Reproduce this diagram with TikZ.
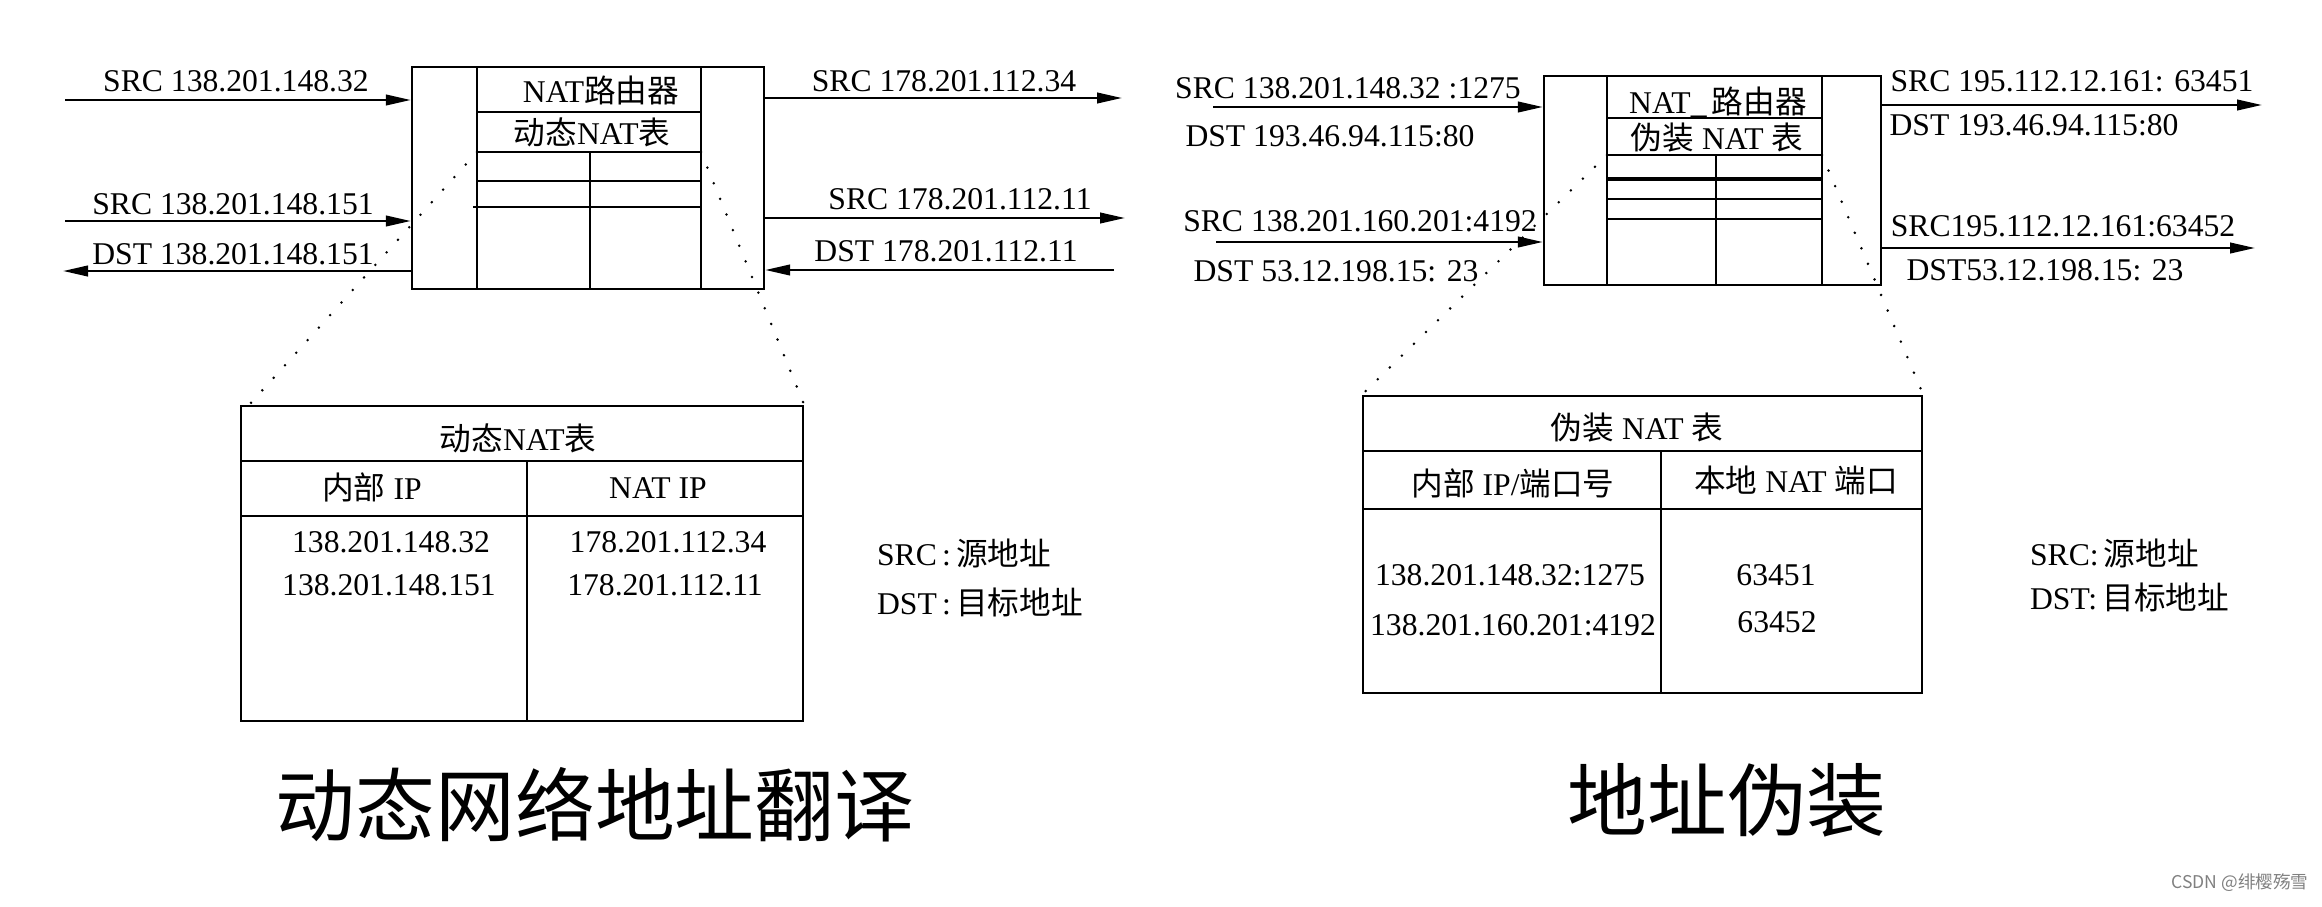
\documentclass[tikz,border=0pt]{standalone}
\usepackage{fontspec}
\setmainfont{Liberation Serif}
\newfontfamily\cjk{Noto Sans CJK SC}
\usetikzlibrary{arrows.meta, positioning}
\tikzstyle{router} = [
    rectangle,
    line width=0.6pt,
    inner sep=0pt,
    draw=black
]
\tikzstyle{bigtable} = [
    rectangle,
    line width=0.6pt,
    inner sep=0pt,
    draw=black
]
\tikzstyle{addr} = [
    inner sep=0pt,
    font=\fontsize{9}{11}\selectfont
]
\tikzstyle{caption} = [
    inner sep=0pt,
    font=\cjk\fontsize{22.7}{26}\selectfont
]
\tikzstyle{arrow} = [line width=0.7pt,-{Triangle[length=2.5mm,width=1.05mm]}]
\tikzstyle{zoomline} = [line width=0.8pt, line cap=round, dash pattern=on 0pt off 4.8pt]

\begin{document}
\begin{tikzpicture}[x=0.01cm, y=-0.01cm, line width=0.6pt]
\useasboundingbox (0,0) rectangle (2322,906);

% dynamic NAT router
\node (router1) [router, minimum width=3.52cm, minimum height=2.22cm] at (588,178) {};
\draw (477,67) -- (477,289);
\draw (701,67) -- (701,289);
\draw (477,112) -- (701,112);
\draw (477,152) -- (701,152);
\draw (590,152) -- (590,289);
\draw (477,181) -- (701,181);
\draw (473,207) -- (701,207);
\node (rname1) [addr] at (601,90) {NAT{\cjk 路由器}};
\node (rtab1) [addr] at (592,132) {{\cjk 动态}NAT{\cjk 表}};

\coordinate (s1in) at (65,100);
\coordinate (s2in) at (65,221);
\coordinate (d2out) at (63,271);
\coordinate (s1out) at (1122,98);
\coordinate (s2out) at (1125,218);
\coordinate (d2in) at (1114,270);
\draw [arrow] (s1in) -- (s1in -| router1.west);
\draw [arrow] (s2in) -- (s2in -| router1.west);
\draw [arrow] (d2out -| router1.west) -- (d2out);
\draw [arrow] (s1out -| router1.east) -- (s1out);
\draw [arrow] (s2out -| router1.east) -- (s2out);
\draw [arrow] (d2in) -- (d2in -| router1.east);

\node (ls1in) [addr] at (236,81) {SRC 138.201.148.32};
\node (ls2in) [addr] at (233,204) {SRC 138.201.148.151};
\node (ld2out) [addr] at (233,254) {DST 138.201.148.151};
\node (ls1out) [addr] at (944,81) {SRC 178.201.112.34};
\node (ls2out) [addr] at (960,199) {SRC 178.201.112.11};
\node (ld2in) [addr] at (946,251) {DST 178.201.112.11};

% dynamic NAT table
\node (tab1) [bigtable, minimum width=5.62cm, minimum height=3.15cm] at (522,563.5) {};
\draw (241,461) -- (803,461);
\draw (241,516) -- (803,516);
\draw (527,461) -- (527,721);
\node (tab1title) [addr] at (518,438) {{\cjk 动态}NAT{\cjk 表}};
\node (tab1h1) [addr] at (372,487) {{\cjk 内部} IP};
\node (tab1h2) [addr] at (658,488) {NAT IP};
\node (tab1a1) [addr] at (391,542) {138.201.148.32};
\node (tab1a2) [addr] at (389,585) {138.201.148.151};
\node (tab1b1) [addr] at (668,542) {178.201.112.34};
\node (tab1b2) [addr] at (665,585) {178.201.112.11};

\coordinate (z1a) at (477,152);
\coordinate (z1b) at (701,152);
\coordinate (z1c) at (250,404);
\draw [zoomline] (z1a) -- (z1c);
\draw [zoomline] (z1b) -- (tab1.north east);

\node (key1src) [addr, anchor=west] at (876,553) {SRC\,:\,{\cjk 源地址}};
\node (key1dst) [addr, anchor=west] at (876,602) {DST\,:\,{\cjk 目标地址}};

% masquerading router
\node (router2) [router, minimum width=3.37cm, minimum height=2.09cm] at (1712.5,180.5) {};
\draw (1607,76) -- (1607,285);
\draw (1822,76) -- (1822,285);
\draw (1607,118) -- (1822,118);
\draw (1607,155) -- (1822,155);
\draw (1716,155) -- (1716,285);
\draw [line width=0.9pt] (1607,179) -- (1822,179);
\draw (1607,199) -- (1822,199);
\draw (1607,219) -- (1822,219);
\node (rname2) [addr] at (1718,102) {NAT\_\,{\cjk 路由器}};
\node (rtab2) [addr] at (1717,138) {{\cjk 伪装} NAT {\cjk 表}};

\coordinate (m1in) at (1213,107);
\coordinate (m2in) at (1216,242);
\coordinate (m1out) at (2262,105);
\coordinate (m2out) at (2255,248);
\draw [arrow] (m1in) -- (m1in -| router2.west);
\draw [arrow] (m2in) -- (m2in -| router2.west);
\draw [arrow] (m1out -| router2.east) -- (m1out);
\draw [arrow] (m2out -| router2.east) -- (m2out);

\node (lm1src) [addr] at (1348,88) {SRC 138.201.148.32 :1275};
\node (lm1dst) [addr] at (1330,136) {DST 193.46.94.115:80};
\node (lm2src) [addr] at (1360,221) {SRC 138.201.160.201:4192};
\node (lm2dst) [addr] at (1336,271) {DST 53.12.198.15: 23};
\node (lm3src) [addr] at (2072,81) {SRC 195.112.12.161: 63451};
\node (lm3dst) [addr] at (2034,125) {DST 193.46.94.115:80};
\node (lm4src) [addr] at (2063,226) {SRC195.112.12.161:63452};
\node (lm4dst) [addr] at (2045,270) {DST53.12.198.15: 23};

% masquerading NAT table
\node (tab2) [bigtable, minimum width=5.59cm, minimum height=2.97cm] at (1642.5,544.5) {};
\draw (1363,451) -- (1922,451);
\draw (1363,509) -- (1922,509);
\draw (1661,451) -- (1661,693);
\node (tab2title) [addr] at (1637,428) {{\cjk 伪装} NAT {\cjk 表}};
\node (tab2h1) [addr] at (1513,483) {{\cjk 内部} IP/{\cjk 端口号}};
\node (tab2h2) [addr] at (1796,480) {{\cjk 本地} NAT {\cjk 端口}};
\node (tab2a1) [addr] at (1510,575) {138.201.148.32:1275};
\node (tab2a2) [addr] at (1513,625) {138.201.160.201:4192};
\node (tab2b1) [addr] at (1776,575) {63451};
\node (tab2b2) [addr] at (1777,622) {63452};

\coordinate (z2a) at (1607,155);
\coordinate (z2b) at (1822,155);
\draw [zoomline] (z2a) -- (tab2.north west);
\draw [zoomline] (z2b) -- (tab2.north east);

\node (key2src) [addr, anchor=west] at (2029,553) {SRC:\,{\cjk 源地址}};
\node (key2dst) [addr, anchor=west] at (2029,597) {DST:\,{\cjk 目标地址}};

% captions
\node (cap1) [caption] at (595,805) {动态网络地址翻译};
\node (cap2) [caption] at (1727,800) {地址伪装};
\node (mark) [inner sep=0pt, text=gray, font=\cjk\fontsize{5}{6}\selectfont] at (2240,883) {CSDN @绯樱殇雪};

\end{tikzpicture}
\end{document}
